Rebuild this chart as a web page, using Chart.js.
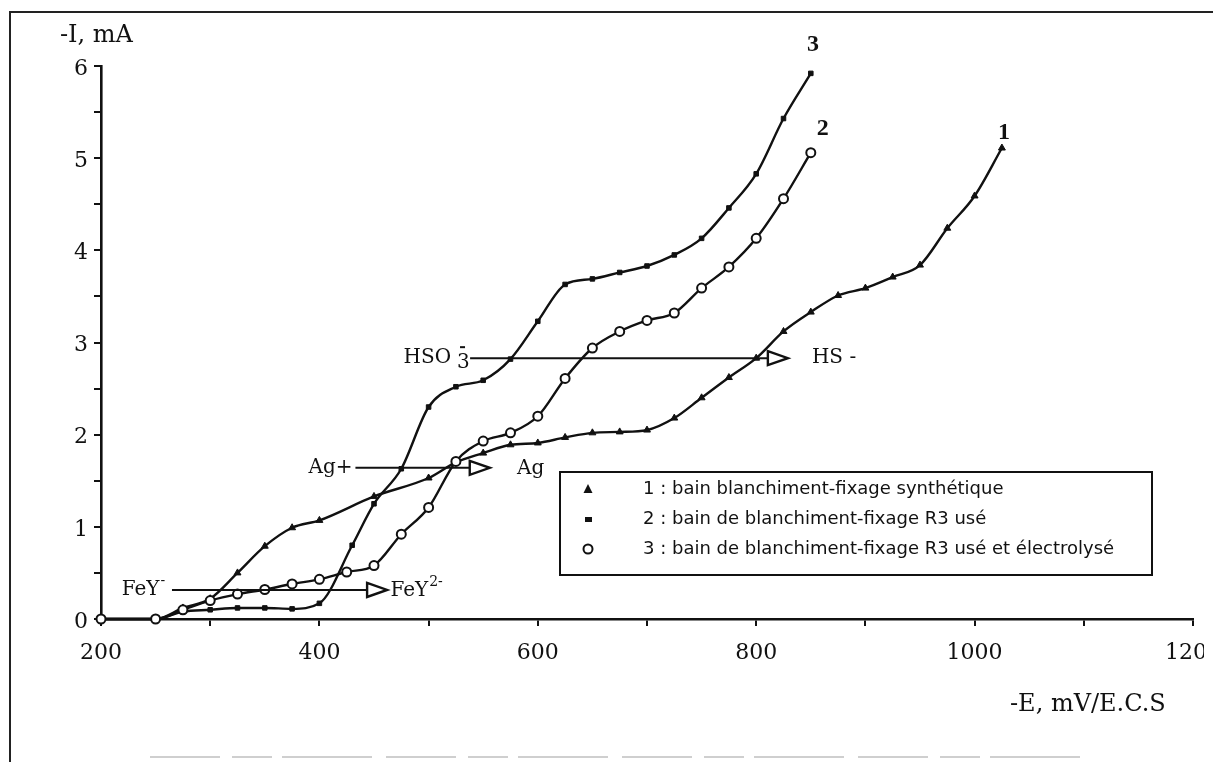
<!DOCTYPE html>
<html><head><meta charset="utf-8">
<script src="https://cdn.jsdelivr.net/npm/chart.js@4.4.0/dist/chart.umd.min.js"></script>
<style>
html,body{margin:0;padding:0;background:#fff;width:1213px;height:762px;overflow:hidden;}
#frame{position:absolute;left:9px;top:11px;width:1204px;height:751px;border-left:2px solid #222;border-top:2px solid #222;box-sizing:border-box;}
#wrap{position:absolute;left:0;top:0;width:1204px;height:762px;}
</style></head><body>
<div id="frame"></div>
<div id="wrap"><canvas id="c" width="1204" height="762"></canvas></div>
<script>
// Curve 1 (triangles) : bain blanchiment-fixage synthétique
const potential1 = [200,250,275,300,325,350,375,400,450,500,525,550,575,600,625,650,675,700,725,750,775,800,825,850,875,900,925,950,975,1000,1025];
const current1   = [0,0,0.12,0.22,0.5,0.79,0.99,1.07,1.33,1.53,1.7,1.8,1.89,1.91,1.97,2.02,2.03,2.05,2.18,2.4,2.62,2.83,3.12,3.33,3.51,3.59,3.71,3.84,4.24,4.59,5.11];
// Curve 2 (squares) : bain de blanchiment-fixage R3 usé
const potential2 = [200,250,275,300,325,350,375,400,430,450,475,500,525,550,575,600,625,650,675,700,725,750,775,800,825,850];
const current2   = [0,0,0.08,0.1,0.12,0.12,0.11,0.17,0.8,1.25,1.63,2.3,2.52,2.59,2.82,3.23,3.63,3.69,3.76,3.83,3.95,4.13,4.46,4.83,5.43,5.92];
// Curve 3 (circles) : bain de blanchiment-fixage R3 usé et électrolysé
const potential3 = [200,250,275,300,325,350,375,400,425,450,475,500,525,550,575,600,625,650,675,700,725,750,775,800,825,850];
const current3   = [0,0,0.1,0.2,0.27,0.32,0.38,0.43,0.51,0.58,0.92,1.21,1.71,1.93,2.02,2.2,2.61,2.94,3.12,3.24,3.32,3.59,3.82,4.13,4.56,5.06];

const xTickLabels = ['200','400','600','800','1000','1200'];
const yTickLabels = ['0','1','2','3','4','5','6'];
const legendLabels = ['1 : bain blanchiment-fixage synthétique','2 : bain de blanchiment-fixage R3 usé','3 : bain de blanchiment-fixage R3 usé et électrolysé'];
const xTitle = '-E, mV/E.C.S';
const yTitle = '-I, mA';

function pts(xs, ys){ return xs.map((x,i)=>({x:x, y:ys[i]})); }

const INK = '#111';
const lineCommon = {borderColor:INK, borderWidth:2.4, cubicInterpolationMode:'monotone', clip:false, pointBorderColor:INK, pointHoverRadius:0};

function drawArrow(ctx, x0, x1, y){
  ctx.beginPath(); ctx.moveTo(x0, y); ctx.lineTo(x1-19, y); ctx.lineWidth=2; ctx.stroke();
  ctx.beginPath(); ctx.moveTo(x1-20, y-7); ctx.lineTo(x1, y); ctx.lineTo(x1-20, y+7); ctx.closePath();
  ctx.fillStyle='#fff'; ctx.fill(); ctx.lineWidth=2.4; ctx.stroke(); ctx.fillStyle=INK;
}

const annot = {
  id:'annot',
  afterDraw(chart){
    const ctx = chart.ctx, xs = chart.scales.x, ys = chart.scales.y;
    const X = v => xs.getPixelForValue(v), Y = v => ys.getPixelForValue(v);
    ctx.save();
    ctx.fillStyle = INK; ctx.strokeStyle = INK; ctx.textBaseline = 'middle'; ctx.textAlign = 'left';
    // axis titles
    ctx.font = '24px "DejaVu Serif"';
    ctx.fillText(yTitle, 60, 36);
    ctx.fillText(xTitle, 1010, 705);
    // reaction arrows
    ctx.font = '20px "DejaVu Serif"';
    // FeY- -> FeY2-
    let yy = Y(0.315);
    ctx.fillText('FeY', X(219), yy);
    let w = ctx.measureText('FeY').width;
    ctx.font = '14px "DejaVu Serif"'; ctx.fillText('-', X(219)+w+1, yy-9);
    drawArrow(ctx, X(265), X(462), yy);
    ctx.font = '20px "DejaVu Serif"';
    ctx.fillText('FeY', X(465), yy+1);
    w = ctx.measureText('FeY').width;
    ctx.font = '14px "DejaVu Serif"'; ctx.fillText('2-', X(465)+w+1, yy-8);
    // Ag+ -> Ag
    ctx.font = '20px "DejaVu Serif"';
    yy = Y(1.64);
    ctx.fillText('Ag+', X(390), yy);
    drawArrow(ctx, X(433), X(556), yy);
    ctx.fillText('Ag', X(581), yy+1);
    // HSO3- -> HS-
    yy = Y(2.83);
    ctx.fillText('HSO', X(477), yy);
    w = ctx.measureText('HSO').width;
    ctx.fillText('3', X(477)+w+6, yy+5);
    ctx.fillRect(X(477)+w+9, yy-12, 5, 2);
    drawArrow(ctx, X(538), X(829), yy);
    ctx.fillText('HS -', X(851), yy);
    // curve labels
    ctx.font = 'bold 24px "Liberation Serif"'; ctx.textAlign = 'center';
    ctx.fillText('3', X(852), Y(6.23));
    ctx.fillText('2', X(861), Y(5.32));
    ctx.fillText('1', X(1027), Y(5.28));
    // legend box
    ctx.textAlign = 'left';
    ctx.lineWidth = 2; ctx.strokeRect(560, 472, 592, 103);
    ctx.font = '18px "DejaVu Sans"';
    const rows = [489, 519, 549];
    rows.forEach((ry, i) => ctx.fillText(legendLabels[i], 643, ry));
    // legend markers
    ctx.beginPath(); ctx.moveTo(588, rows[0]-5); ctx.lineTo(592.5, rows[0]+4); ctx.lineTo(583.5, rows[0]+4); ctx.closePath(); ctx.fill();
    ctx.fillRect(585, rows[1]-2, 7, 5);
    ctx.beginPath(); ctx.arc(588, rows[2], 4.5, 0, Math.PI*2); ctx.fillStyle='#fff'; ctx.fill(); ctx.lineWidth=2; ctx.stroke();
    // faint bottom rule from the scan
    ctx.strokeStyle = '#cfcfcf'; ctx.lineWidth = 2; ctx.setLineDash([70,12,40,10,90,14]);
    ctx.beginPath(); ctx.moveTo(150, 757); ctx.lineTo(1090, 757); ctx.stroke();
    ctx.restore();
  }
};

new Chart(document.getElementById('c'), {
  type:'line',
  data:{datasets:[
    Object.assign({label:legendLabels[2], data:pts(potential3,current3), pointStyle:'circle', pointRadius:4.5, pointBackgroundColor:'#fff', pointBorderWidth:2}, lineCommon),
    Object.assign({label:legendLabels[0], data:pts(potential1,current1), pointStyle:'triangle', pointRadius:4, pointBackgroundColor:INK, pointBorderWidth:1}, lineCommon),
    Object.assign({label:legendLabels[1], data:pts(potential2,current2), pointStyle:'rect', pointRadius:3.2, pointBackgroundColor:INK, pointBorderWidth:1}, lineCommon)
  ]},
  options:{
    responsive:false, animation:false, events:[],
    layout:{padding:{left:0, right:11, top:66, bottom:0}},
    plugins:{legend:{display:false}, tooltip:{enabled:false}},
    scales:{
      x:{type:'linear', min:200, max:1200,
        ticks:{stepSize:100, autoSkip:false, maxRotation:0, color:INK, padding:14,
          font:{family:'DejaVu Serif', size:22},
          callback:v => xTickLabels.includes(String(v)) ? String(v) : ''},
        grid:{drawOnChartArea:false, drawTicks:true, tickLength:7, color:INK, lineWidth:2},
        border:{display:true, color:INK, width:2.6},
        afterFit(s){ s.height = 143; s.paddingLeft = 0; s.paddingRight = 0; }
      },
      y:{type:'linear', min:0, max:6,
        ticks:{stepSize:0.5, autoSkip:false, color:INK, padding:6, labelOffset:3,
          font:{family:'DejaVu Serif', size:22},
          callback:v => yTickLabels.includes(String(v)) ? String(v) : ''},
        grid:{drawOnChartArea:false, drawTicks:true, tickLength:7, color:INK, lineWidth:2},
        border:{display:true, color:INK, width:2.6},
        afterFit(s){ s.width = 101; s.paddingTop = 0; s.paddingBottom = 0; }
      }
    }
  },
  plugins:[annot]
});
</script>
</body></html>
